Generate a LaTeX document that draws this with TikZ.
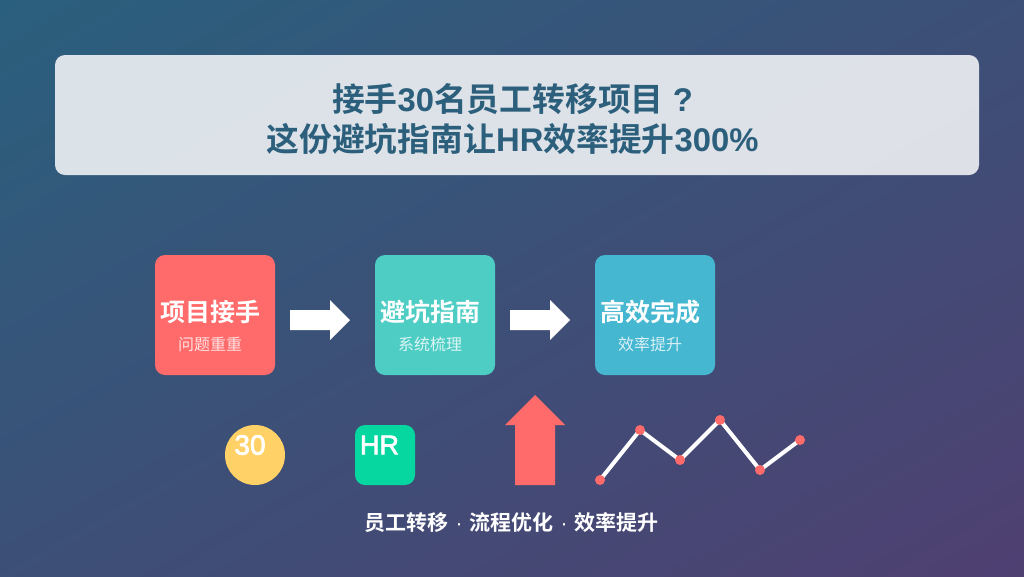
\documentclass[tikz,border=0pt]{standalone}
\usepackage{fontspec}
\setmainfont{Noto Sans CJK SC}
\newfontfamily\lat{Liberation Sans}
\newfontfamily\boldcjk{Noto Sans CJK SC Bold}
\newfontfamily\titlelat{Liberation Sans Bold}
\newcommand{\heavier}[1]{\special{pdf:code q 2 Tr 0.7 w 1 1 1 RG}#1\special{pdf:code 0 Tr Q}}
\pgfdeclarefunctionalshading{bgdiag}{\pgfpoint{0bp}{0bp}}{\pgfpoint{100bp}{100bp}}{}{
  sub 50 add 100 div
  dup 0.145 mul 0.165 add exch
  dup -0.125 mul 0.375 add exch
  -0.045 mul 0.49 add
}
\definecolor{titleblue}{HTML}{2C5F7C}
\definecolor{cRed}{HTML}{FF6B6B}
\definecolor{cTeal}{HTML}{4ECDC4}
\definecolor{cBlue}{HTML}{45B7D1}
\definecolor{cYellow}{HTML}{FFD166}
\definecolor{cGreen}{HTML}{06D6A0}
\tikzset{
  x=1pt,y=-1pt,
  cardbox/.style={minimum width=120pt,minimum height=120pt,rounded corners=10pt,inner sep=0pt,outer sep=0pt},
  cardtitle/.style={text=white,font=\fontsize{25}{28}\selectfont\boldcjk,inner sep=0pt},
  cardsub/.style={text=white,text opacity=.8,font=\fontsize{16}{20}\selectfont,inner sep=0pt},
  blockarrow/.style={fill=white},
  dot/.style={circle,fill=cRed,minimum size=10pt,inner sep=0pt},
  titletext/.style={text=titleblue,font=\fontsize{32.8}{40}\selectfont\boldcjk,inner sep=0pt},
}
\begin{document}
\begin{tikzpicture}
\useasboundingbox (0,0) rectangle (1024,576);
\shade[shading=bgdiag] (0,0) rectangle (1024,576);
\node[fill=white,fill opacity=.83,rounded corners=10pt,minimum width=924pt,minimum height=120pt,inner sep=0pt] (banner) at (517,115) {};
\node[titletext] (t1) at (512.5,99) {接手{\titlelat 30}名员工转移项目{\titlelat\ ?}};
\node[titletext] (t2) at (512.5,139) {这份避坑指南让{\titlelat HR}效率提升{\titlelat 300\%}};
\node[cardbox,fill=cRed] (c1) at (215,315) {};
\node[cardbox,fill=cTeal] (c2) at (435,315) {};
\node[cardbox,fill=cBlue] (c3) at (655,315) {};
\node[cardtitle] (c1t) at (210,312) {项目接手};
\node[cardsub] (c1s) at (210,344) {问题重重};
\node[cardtitle] (c2t) at (430,312) {避坑指南};
\node[cardsub] (c2s) at (430,344) {系统梳理};
\node[cardtitle] (c3t) at (650,312) {高效完成};
\node[cardsub] (c3s) at (650,344) {效率提升};
\fill[blockarrow] (290,310) -- (330,310) -- (330,300) -- (350,320) -- (330,340) -- (330,330) -- (290,330) -- cycle;
\fill[blockarrow] (510,310) -- (550,310) -- (550,300) -- (570,320) -- (550,340) -- (550,330) -- (510,330) -- cycle;
\node[circle,fill=cYellow,minimum size=60pt,inner sep=0pt] (n30) at (255,455) {};
\node[text=white,font=\lat\fontsize{28}{32}\selectfont,inner sep=0pt] (n30t) at (250,445) {\heavier{30}};
\node[fill=cGreen,rounded corners=10pt,minimum size=60pt,inner sep=0pt] (hr) at (385,455) {};
\node[text=white,font=\lat\fontsize{27}{32}\selectfont,inner sep=0pt] (hrt) at (379.5,445) {\heavier{HR}};
\fill[cRed] (515,485) -- (515,425) -- (505,425) -- (535,395) -- (565,425) -- (555,425) -- (555,485) -- cycle;
\coordinate (p1) at (600,480);
\coordinate (p2) at (640,430);
\coordinate (p3) at (680,460);
\coordinate (p4) at (720,420);
\coordinate (p5) at (760,470);
\coordinate (p6) at (800,440);
\draw[white,line width=4pt] (p1) -- (p2) -- (p3) -- (p4) -- (p5) -- (p6);
\foreach \i in {1,...,6} \node[dot] (d\i) at (p\i) {};
\node[text=white,font=\fontsize{21}{24}\selectfont\boldcjk,inner sep=0pt] (cap) at (511.5,523) {员工转移\hspace{7pt}{\lat ·}\hspace{7pt}流程优化\hspace{7pt}{\lat ·}\hspace{7pt}效率提升};
\end{tikzpicture}
\end{document}
